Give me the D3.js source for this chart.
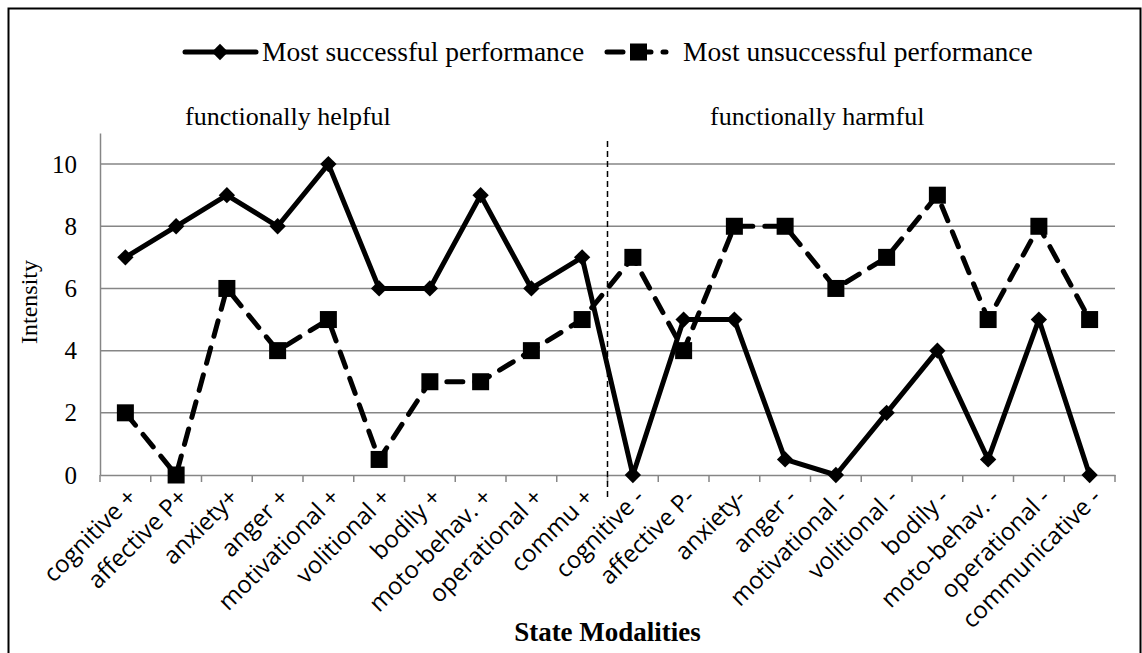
<!DOCTYPE html>
<html>
<head>
<meta charset="utf-8">
<script src="https://cdn.jsdelivr.net/npm/d3@7"></script>
<style>
  body { margin: 0; background: #fff; }
  svg text { fill: #000; }
</style>
</head>
<body>
<div id="chart"></div>
<script>
const categories = ["cognitive +", "affective P+", "anxiety+", "anger +", "motivational +",
  "volitional +", "bodily +", "moto-behav. +", "operational +", "commu +",
  "cognitive -", "affective P-", "anxiety-", "anger -", "motivational -",
  "volitional -", "bodily -", "moto-behav. -", "operational -", "communicative -"];
const successful = [7, 8, 9, 8, 10, 6, 6, 9, 6, 7, 0, 5, 5, 0.5, 0, 2, 4, 0.5, 5, 0];
const unsuccessful = [2, 0, 6, 4, 5, 0.5, 3, 3, 4, 5, 7, 4, 8, 8, 6, 7, 9, 5, 8, 5];
const yTicks = [0, 2, 4, 6, 8, 10];
const seriesNames = ["Most successful performance", "Most unsuccessful performance"];
const groupLabels = ["functionally helpful", "functionally harmful"];

const W = 1142, H = 653;
const margin = {top: 133, right: 27, bottom: 178, left: 100};
const width = W - margin.left - margin.right;
const height = H - margin.top - margin.bottom;
const serif = "Liberation Serif, Times New Roman, serif";

const svg = d3.select("#chart").append("svg")
    .attr("width", W).attr("height", H);

// outer frame
svg.append("rect")
    .attr("x", 8.5).attr("y", 8.5)
    .attr("width", 1132).attr("height", 660)
    .attr("fill", "none").attr("stroke", "#000").attr("stroke-width", 2);

const g = svg.append("g")
    .attr("transform", "translate(" + margin.left + "," + margin.top + ")");

const x = d3.scaleBand().domain(categories).range([0, width]);
const y = d3.scaleLinear().domain([0, 11]).range([height, 0]);

// gridlines
g.append("g")
  .selectAll("line")
  .data(yTicks.filter(d => d > 0))
  .enter().append("line")
    .attr("x1", 0).attr("x2", width)
    .attr("y1", d => y(d)).attr("y2", d => y(d))
    .attr("stroke", "#868686").attr("stroke-width", 1.5);

// y axis
const yAxis = g.append("g")
    .call(d3.axisLeft(y).tickValues(yTicks).tickSize(0).tickPadding(23));
yAxis.select(".domain").attr("stroke", "#868686").attr("stroke-width", 1.5);
yAxis.selectAll("text")
    .style("font-family", serif)
    .style("font-size", "25px");

// x axis
const xAxis = g.append("g")
    .attr("transform", "translate(0," + height + ")")
    .call(d3.axisBottom(x).tickSize(0).tickFormat(""));
xAxis.select(".domain").attr("stroke", "#868686").attr("stroke-width", 1.5);

const bounds = categories.map(c => x(c)).concat([width]);
g.append("g")
  .selectAll("line")
  .data(bounds)
  .enter().append("line")
    .attr("x1", d => d).attr("x2", d => d)
    .attr("y1", height).attr("y2", height + 7)
    .attr("stroke", "#868686").attr("stroke-width", 1.5);

g.append("g")
  .selectAll("text")
  .data(categories)
  .enter().append("text")
    .attr("transform", d => "translate(" + (x(d) + x.bandwidth() / 2 + 1) + "," + (height + 12) + ") rotate(-45)")
    .attr("text-anchor", "end")
    .attr("dy", "0.7em")
    .style("font-family", "Open Sans, sans-serif")
    .style("font-size", "24px")
    .text(d => d);

// divider between helpful and harmful
const divX = x(categories[10]);
g.append("line")
    .attr("x1", divX).attr("x2", divX)
    .attr("y1", 8).attr("y2", height + 24)
    .attr("stroke", "#000").attr("stroke-width", 1.5)
    .attr("stroke-dasharray", "6,4");

g.append("text")
    .attr("x", 85).attr("y", -8)
    .style("font-family", serif)
    .style("font-size", "26px")
    .text(groupLabels[0]);
g.append("text")
    .attr("x", 610).attr("y", -8)
    .style("font-family", serif)
    .style("font-size", "26px")
    .text(groupLabels[1]);

const cx = i => x(categories[i]) + x.bandwidth() / 2;
const line = d3.line().x((d, i) => cx(i)).y(d => y(d));

const diamond = d3.symbol().type(d3.symbolDiamond2).size(170);

// unsuccessful (dashed, squares)
g.append("path")
    .datum(unsuccessful)
    .attr("d", line)
    .attr("fill", "none").attr("stroke", "#000")
    .attr("stroke-width", 5).attr("stroke-dasharray", "16,12")
    .attr("stroke-linecap", "round");
g.append("g")
  .selectAll("rect")
  .data(unsuccessful)
  .enter().append("rect")
    .attr("x", (d, i) => cx(i) - 8.5).attr("y", d => y(d) - 8.5)
    .attr("width", 17).attr("height", 17)
    .attr("fill", "#000");

// successful (solid, diamonds)
g.append("path")
    .datum(successful)
    .attr("d", line)
    .attr("fill", "none").attr("stroke", "#000")
    .attr("stroke-width", 5).attr("stroke-linejoin", "round");
g.append("g")
  .selectAll("path")
  .data(successful)
  .enter().append("path")
    .attr("transform", (d, i) => "translate(" + cx(i) + "," + y(d) + ")")
    .attr("d", diamond)
    .attr("fill", "#000");

// axis titles
svg.append("text")
    .attr("transform", "translate(37," + (margin.top + height / 2 - 2) + ") rotate(-90)")
    .attr("text-anchor", "middle")
    .style("font-family", serif)
    .style("font-size", "24px")
    .text("Intensity");

svg.append("text")
    .attr("x", margin.left + width / 2).attr("y", 641)
    .attr("text-anchor", "middle")
    .style("font-family", serif)
    .style("font-weight", "bold")
    .style("font-size", "27px")
    .text("State Modalities");

// legend
const legend = svg.append("g");
legend.append("line")
    .attr("x1", 185).attr("x2", 256).attr("y1", 52).attr("y2", 52)
    .attr("stroke", "#000").attr("stroke-width", 5).attr("stroke-linecap", "round");
legend.append("path")
    .attr("transform", "translate(220,52)")
    .attr("d", diamond).attr("fill", "#000");
legend.append("text")
    .attr("x", 262).attr("y", 61)
    .style("font-family", serif)
    .style("font-size", "27.5px")
    .text(seriesNames[0]);

legend.append("line")
    .attr("x1", 607).attr("x2", 666).attr("y1", 52).attr("y2", 52)
    .attr("stroke", "#000").attr("stroke-width", 5)
    .attr("stroke-dasharray", "16,12").attr("stroke-linecap", "round");
legend.append("rect")
    .attr("x", 630).attr("y", 43.5).attr("width", 17).attr("height", 17)
    .attr("fill", "#000");
legend.append("text")
    .attr("x", 683).attr("y", 61)
    .style("font-family", serif)
    .style("font-size", "27.5px")
    .text(seriesNames[1]);
</script>
</body>
</html>
